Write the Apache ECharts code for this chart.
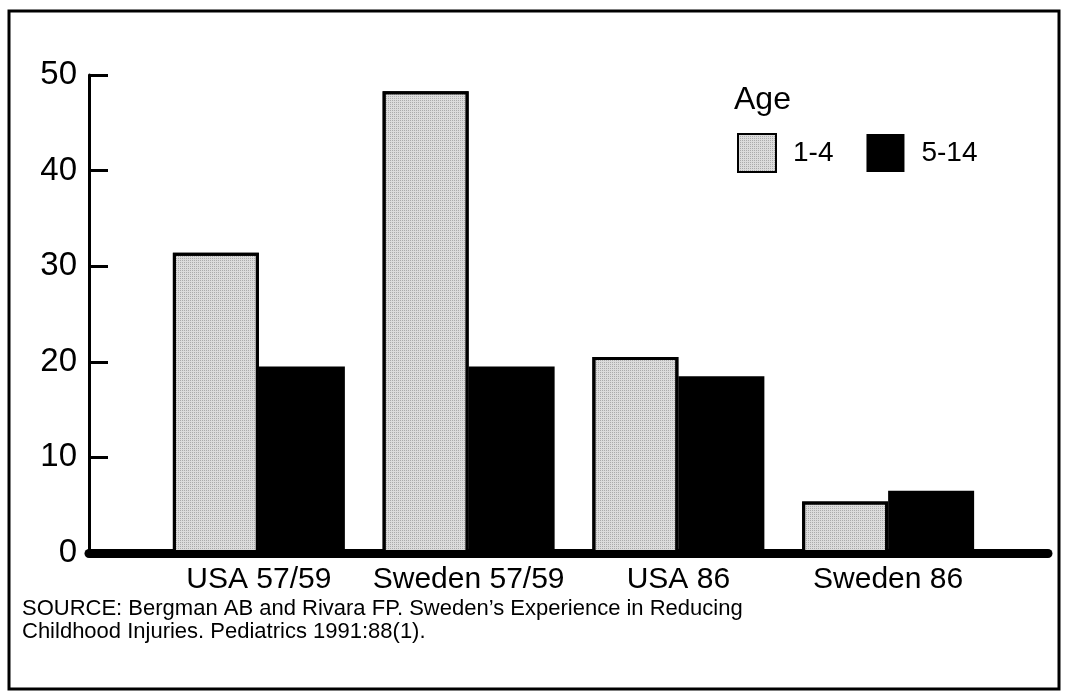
<!DOCTYPE html>
<html>
<head>
<meta charset="utf-8">
<script src="https://cdn.jsdelivr.net/npm/echarts@6/dist/echarts.min.js"></script>
<style>
  html, body { margin: 0; padding: 0; background: #fff; }
  #main { width: 1068px; height: 700px; }
</style>
</head>
<body>
<div id="main"></div>
<script>
var categories = ['USA 57/59', 'Sweden 57/59', 'USA 86', 'Sweden 86']
var age14 = [31.4, 48.3, 20.5, 5.4]
var age514 = [19.5, 19.5, 18.5, 6.5]
var yTicks = [0, 10, 20, 30, 40, 50]

var font = 'Liberation Sans, Arial, Helvetica, sans-serif'
var myChart = echarts.init(document.getElementById('main'))

// stipple look of the light bars
var stipple = {
  symbol: 'rect',
  symbolSize: 1,
  dashArrayX: [1, 1],
  dashArrayY: [1, 1],
  color: 'rgba(0,0,0,0.22)',
}

var option = {
  backgroundColor: '#fff',
  animation: false,
  textStyle: { fontFamily: font, color: '#000' },
  title: [
    {
      text: 'Age',
      left: 729,
      top: 79,
      textStyle: { fontFamily: font, fontSize: 32, fontWeight: 'normal', color: '#000' },
    },
    {
      text: 'SOURCE: Bergman AB and Rivara FP. Sweden\u2019s Experience in Reducing\nChildhood Injuries. Pediatrics 1991:88(1).',
      left: 17,
      top: 592,
      textStyle: { fontFamily: font, fontSize: 22, fontWeight: 'normal', color: '#000', lineHeight: 23 },
    },
  ],
  legend: {
    left: 732,
    top: 128,
    itemWidth: 38,
    itemHeight: 38,
    itemGap: 33,
    icon: 'rect',
    textStyle: { fontFamily: font, fontSize: 28, color: '#000', padding: [16, 0, 0, 12] },
    data: ['1-4', '5-14'],
  },
  // grid 0 carries the long axes, grid 1 carries the bars
  grid: [
    { left: 89, right: 20, top: 75, bottom: 147 },
    { left: 154, right: 75, top: 75, bottom: 147 },
  ],
  xAxis: [
    {
      gridIndex: 0,
      type: 'value',
      min: 0,
      max: 1,
      axisLine: { show: true, lineStyle: { color: '#000', width: 9 } },
      axisTick: { show: false },
      axisLabel: { show: false },
      splitLine: { show: false },
    },
    {
      gridIndex: 1,
      type: 'category',
      data: categories,
      axisLine: { show: false },
      axisTick: { show: false },
      axisLabel: { fontFamily: font, fontSize: 30, color: '#000', margin: 12, interval: 0 },
      z: 5,
    },
  ],
  yAxis: [
    {
      gridIndex: 0,
      type: 'value',
      min: 0,
      max: 50,
      interval: 10,
      axisLine: { show: true, lineStyle: { color: '#000', width: 3 } },
      axisTick: { show: true, inside: true, length: 19, lineStyle: { color: '#000', width: 3 } },
      axisLabel: {
        fontFamily: font,
        fontSize: 33,
        color: '#000',
        margin: 12,
        customValues: yTicks,
      },
      splitLine: { show: false },
      z: 5,
    },
    {
      gridIndex: 1,
      type: 'value',
      min: 0,
      max: 50,
      interval: 10,
      show: false,
    },
  ],
  series: [
    {
      name: '1-4',
      type: 'bar',
      xAxisIndex: 1,
      yAxisIndex: 1,
      data: age14,
      barWidth: 86,
      barGap: '0%',
      itemStyle: { color: '#dcdcdc', borderColor: '#000', borderWidth: 3, decal: stipple },
      z: 2,
    },
    {
      name: '5-14',
      type: 'bar',
      xAxisIndex: 1,
      yAxisIndex: 1,
      data: age514,
      barWidth: 86,
      barGap: '0%',
      itemStyle: { color: '#000' },
      z: 2,
    },
  ],
  graphic: [
    {
      type: 'rect',
      shape: { x: 9, y: 11, width: 1050, height: 678 },
      style: { fill: 'none', stroke: '#000', lineWidth: 3 },
      z: -1,
    },
  ],
}

myChart.setOption(option)
</script>
</body>
</html>
